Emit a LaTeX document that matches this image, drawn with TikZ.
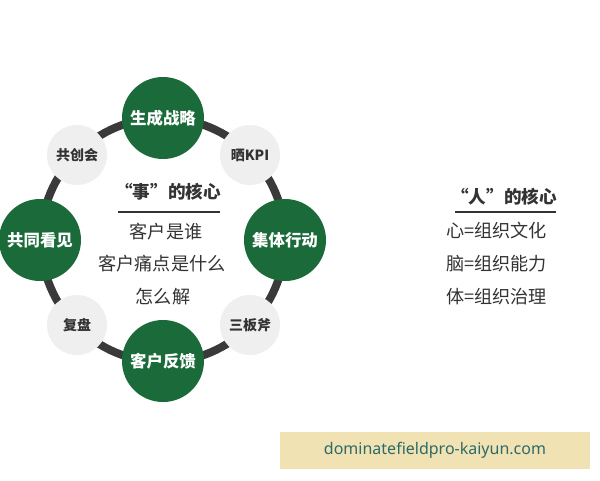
\documentclass[tikz,border=0pt]{standalone}
\usepackage{fontspec}
\setmainfont{Noto Sans CJK SC}
\newfontfamily\wmfont{Noto Sans}
\definecolor{mygreen}{HTML}{1B6B3A}
\definecolor{ringgray}{HTML}{3A3A3A}
\definecolor{lightgray}{HTML}{EFEFEF}
\definecolor{txtgray}{HTML}{333333}
\definecolor{wmbg}{HTML}{F0E2B2}
\definecolor{wmtxt}{HTML}{2E6A6A}
\begin{document}
\begin{tikzpicture}[x=0.75pt,y=-0.75pt,
  bignode/.style={circle,fill=mygreen,minimum size=82*0.75pt,inner sep=0pt,text=white,font=\fontsize{12.3}{13}\selectfont\bfseries},
  smallnode/.style={circle,fill=lightgray,minimum size=60*0.75pt,inner sep=0pt,text=txtgray,font=\fontsize{10.5}{11}\selectfont\bfseries},
  bodytext/.style={text=txtgray,font=\fontsize{13.6}{14}\selectfont,inner sep=0pt},
  headtext/.style={text=txtgray,font=\fontsize{13.2}{14}\selectfont\bfseries,inner sep=0pt},
  rule/.style={line width=1.3pt,draw=txtgray}]
\useasboundingbox (0,0) rectangle (600,480);
\fill[white] (0,0) rectangle (600,480);
\coordinate (c) at (163,240);
\draw[ringgray,line width=6pt] (c) circle[radius=122*0.75pt];
\node[bignode] (top) at (163,118) {生成战略};
\node[bignode] (right) at (285,240) {集体行动};
\node[bignode] (bottom) at (163,361) {客户反馈};
\node[bignode] (left) at (40,240) {共同看见};
\node[smallnode] (tl) at (77,155) {共创会};
\node[smallnode] (tr) at (250,155) {晒KPI};
\node[smallnode] (br) at (250,325) {三板斧};
\node[smallnode] (bl) at (77,325) {复盘};
% centre text
\node[headtext] (h1) at (168,192) {“事”的核心};
\coordinate (u1a) at (118,212);
\coordinate (u1b) at (220,212);
\draw[rule] (u1a) -- (u1b);
\node[bodytext] (c1) at (166,232) {客户是谁};
\node[bodytext] (c2) at (162,264) {客户痛点是什么};
\node[bodytext] (c3) at (163,297) {怎么解};
% right text
\node[headtext] (h2) at (504,197) {“人”的核心};
\coordinate (u2a) at (455,212);
\coordinate (u2b) at (556,212);
\draw[rule] (u2a) -- (u2b);
\node[bodytext,anchor=west] (r1) at (446,231) {心=组织文化};
\node[bodytext,anchor=west] (r2) at (446,264) {脑=组织能力};
\node[bodytext,anchor=west] (r3) at (446,297) {体=组织治理};
% watermark
\fill[wmbg] (280,432) rectangle (590,469);
\node[text=wmtxt,font=\wmfont\fontsize{12}{13}\selectfont] (wm) at (435,450) {dominatefieldpro-kaiyun.com};
\end{tikzpicture}
\end{document}
